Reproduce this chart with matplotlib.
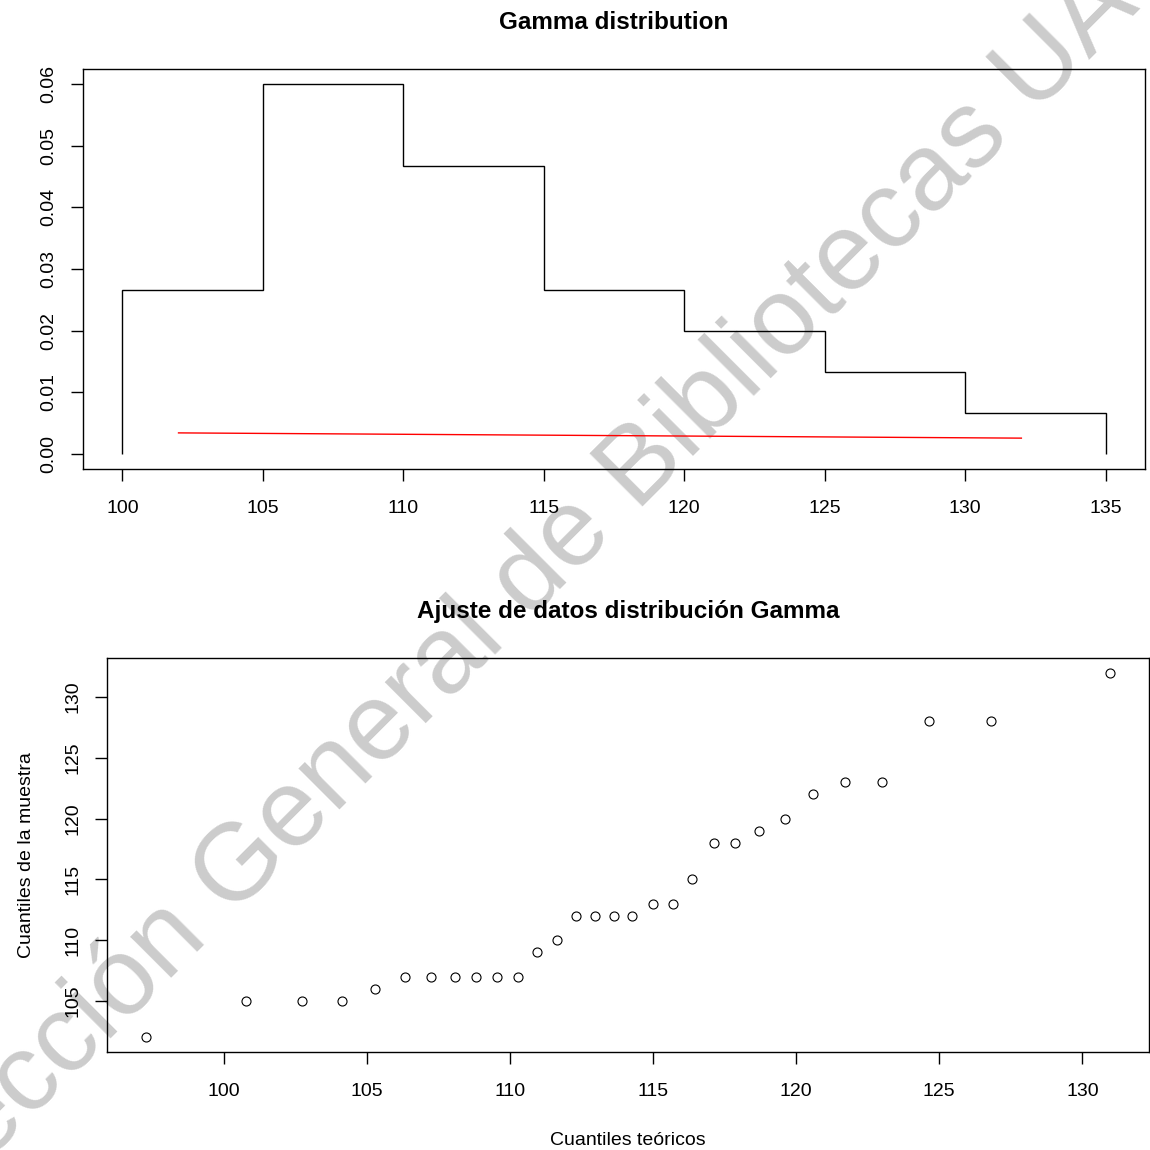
import numpy as np
import matplotlib.pyplot as plt

plt.rcParams['font.family'] = ['Liberation Sans', 'DejaVu Sans']

# Histograma (densidad) de la muestra, cortes de 5 en 5
cortes = [100, 105, 110, 115, 120, 125, 130, 135]
conteos = [4, 9, 7, 4, 3, 2, 1]
n_muestra = 30

# Curva roja (densidad gamma ajustada, casi plana)
curva_x = [102, 132]
curva_y = [0.00345, 0.0026]

# QQ-plot: cuantiles teóricos vs cuantiles de la muestra
teoricos = [97.27, 100.77, 102.73, 104.13, 105.28, 106.33, 107.24, 108.08, 108.81, 109.55,
            110.28, 110.94, 111.64, 112.31, 112.97, 113.64, 114.27, 115.00, 115.70, 116.36,
            117.13, 117.87, 118.71, 119.62, 120.59, 121.71, 123.01, 124.65, 126.82, 130.98]
muestra = [102, 105, 105, 105, 106, 107, 107, 107, 107, 107,
           107, 109, 110, 112, 112, 112, 112, 113, 113, 115,
           118, 118, 119, 120, 122, 123, 123, 128, 128, 132]

fig = plt.figure(figsize=(11.5, 11.5), dpi=100)
ax1 = fig.add_axes([83 / 1150, 1 - 469 / 1150, 1062 / 1150, 400 / 1150])
ax2 = fig.add_axes([107 / 1150, 1 - 1052 / 1150, 1042 / 1150, 394 / 1150])

def estilo_r(ax):
    ax.set_facecolor('none')
    for s in ax.spines.values():
        s.set_linewidth(1.0)
        s.set_color('black')
    ax.tick_params(direction='out', length=8.5, width=1.0, labelsize=14, colors='black')
    ax.tick_params(axis='x', pad=13.5)
    ax.tick_params(axis='y', pad=10, labelrotation=90)
    for lab in ax.get_yticklabels():
        lab.set_va('center')

# --- panel superior ---
densidad = np.array(conteos) / (n_muestra * 5)
ax1.stairs(densidad, cortes, baseline=0, color='black', linewidth=1.0)
ax1.plot(curva_x, curva_y, color='red', linewidth=1.0)
ax1.set_xlim(98.6, 136.4)
ax1.set_ylim(-0.0024, 0.0624)
ax1.set_xticks([100, 105, 110, 115, 120, 125, 130, 135])
ax1.set_yticks([0, 0.01, 0.02, 0.03, 0.04, 0.05, 0.06])
ax1.set_yticklabels(['0.00', '0.01', '0.02', '0.03', '0.04', '0.05', '0.06'])
ax1.set_title('Gamma distribution', fontsize=17.5, fontweight='bold', pad=29)
estilo_r(ax1)

# --- panel inferior ---
ax2.plot(teoricos, muestra, 'o', markerfacecolor='none', markeredgecolor='black',
         markersize=6.5, markeredgewidth=0.8)
ax2.set_xlim(95.92, 132.33)
ax2.set_ylim(100.8, 133.2)
ax2.set_xticks([100, 105, 110, 115, 120, 125, 130])
ax2.set_yticks([105, 110, 115, 120, 125, 130])
ax2.set_title('Ajuste de datos distribución Gamma', fontsize=17.5, fontweight='bold', pad=29)
ax2.set_xlabel('Cuantiles teóricos', fontsize=14, labelpad=23.5)
ax2.set_ylabel('Cuantiles de la muestra', fontsize=14, labelpad=21)
estilo_r(ax2)

# marca de agua
fig.text(0.4726, 0.4739, 'Dirección General de Bibliotecas UAQ', fontsize=79,
         color='#cccccc', rotation=45, rotation_mode='anchor',
         ha='center', va='baseline', zorder=-1)

fig.savefig('out.png', dpi=100)
